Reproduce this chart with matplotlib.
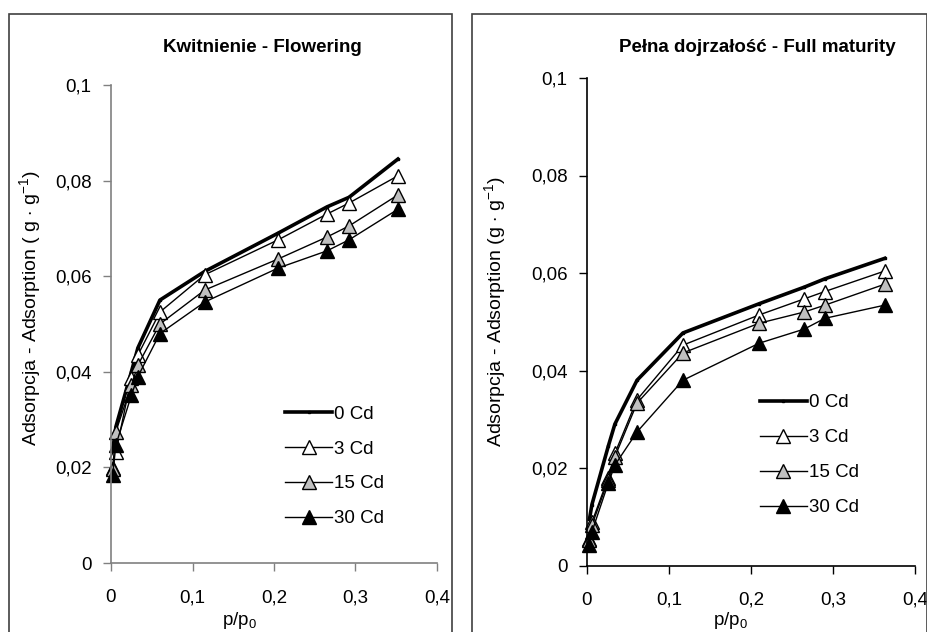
import matplotlib
matplotlib.use("Agg")
import matplotlib.pyplot as plt
from matplotlib.patches import Rectangle
from matplotlib.ticker import FuncFormatter

plt.rcParams['font.family'] = ['Liberation Sans', 'DejaVu Sans']
plt.rcParams['mathtext.fontset'] = 'custom'
plt.rcParams['mathtext.rm'] = 'Liberation Sans'
plt.rcParams['mathtext.it'] = 'Liberation Sans:italic'
plt.rcParams['mathtext.bf'] = 'Liberation Sans:bold'

series_names = ['0 Cd', '3 Cd', '15 Cd', '30 Cd']

# Kwitnienie - Flowering
x_flow = [0.002, 0.006, 0.025, 0.033, 0.06, 0.115, 0.205, 0.265, 0.292, 0.352]
flow_0 = [0.0235, 0.0285, 0.0400, 0.0450, 0.0550, 0.0610, 0.0690, 0.0745, 0.0765, 0.0845]
flow_3 = [0.0199, 0.0232, 0.0387, 0.0435, 0.0525, 0.0603, 0.0676, 0.0730, 0.0753, 0.0810]
flow_15 = [0.0197, 0.0275, 0.0372, 0.0414, 0.0500, 0.0571, 0.0636, 0.0682, 0.0705, 0.0770]
flow_30 = [0.0184, 0.0247, 0.0351, 0.0390, 0.0480, 0.0546, 0.0617, 0.0653, 0.0676, 0.0740]

# Pelna dojrzalosc - Full maturity
x_mat = [0.003, 0.006, 0.026, 0.034, 0.061, 0.117, 0.21, 0.265, 0.29, 0.363]
mat_0 = [0.0095, 0.0125, 0.0245, 0.0290, 0.0380, 0.0477, 0.0537, 0.0571, 0.0588, 0.0630]
mat_3 = [0.0055, 0.0089, 0.0180, 0.0230, 0.0340, 0.0452, 0.0514, 0.0547, 0.0562, 0.0604]
mat_15 = [0.0052, 0.0083, 0.0175, 0.0223, 0.0333, 0.0436, 0.0497, 0.0520, 0.0534, 0.0577]
mat_30 = [0.0042, 0.0069, 0.0169, 0.0206, 0.0274, 0.0380, 0.0456, 0.0485, 0.0507, 0.0534]

x_ticks = [0, 0.1, 0.2, 0.3, 0.4]
y_ticks = [0, 0.02, 0.04, 0.06, 0.08, 0.1]

FS = 13.5


def comma(v, pos):
    s = ('%.2f' % v).rstrip('0').rstrip('.')
    return s.replace('.', ',')


def draw_panel(ax, x, ys, spine_col, ylabel, ylab_xy, xlab_xy, leg_xy):
    styles = [dict(color='black', lw=2.6, marker='s', ms=1.5),
              dict(color='black', lw=1, marker='^', ms=10, mfc='white', mec='black', mew=1),
              dict(color='black', lw=1, marker='^', ms=10, mfc='#c0c0c0', mec='black', mew=1),
              dict(color='black', lw=1, marker='^', ms=10, mfc='black', mec='black', mew=1)]
    for y, name, st in zip(ys, series_names, styles):
        ax.plot(x, y, label=name, clip_on=False, **st)
    ax.set_xlim(0, 0.4)
    ax.set_ylim(0, 0.1)
    ax.set_xticks(x_ticks)
    ax.set_yticks(y_ticks)
    ax.xaxis.set_major_formatter(FuncFormatter(comma))
    ax.yaxis.set_major_formatter(FuncFormatter(comma))
    for s in ['top', 'right']:
        ax.spines[s].set_visible(False)
    for s in ['left', 'bottom']:
        ax.spines[s].set_color(spine_col)
        ax.spines[s].set_linewidth(1.2)
    ax.tick_params(axis='y', direction='out', length=6, width=1, color=spine_col,
                   labelsize=FS, pad=8)
    ax.tick_params(axis='x', direction='out', length=6, width=1, color=spine_col,
                   labelsize=FS, pad=13)
    ax.set_ylabel(ylabel, fontsize=14)
    ax.yaxis.set_label_coords(*ylab_xy)
    ax.set_xlabel(r'p/p$_\mathregular{0}$', fontsize=FS)
    ax.xaxis.set_label_coords(*xlab_xy)
    ax.legend(loc='center left', bbox_to_anchor=leg_xy, frameon=False, fontsize=FS,
              handlelength=2.5, handletextpad=0.1, labelspacing=0.95,
              borderpad=0, borderaxespad=0)


fig = plt.figure(figsize=(9.28, 6.32), dpi=100)

# panel frames
fig.patches.append(Rectangle((9 / 928, -0.02), 443 / 928, 1.02 - 14 / 632,
                             transform=fig.transFigure, fill=False,
                             edgecolor='#404040', lw=1.2))
fig.patches.append(Rectangle((472 / 928, -0.02), 455 / 928, 1.02 - 14 / 632,
                             transform=fig.transFigure, fill=False,
                             edgecolor='#404040', lw=1.2))

ax1 = fig.add_axes([111 / 928, 69 / 632, 326 / 928, 478 / 632])
ax2 = fig.add_axes([587 / 928, 66.5 / 632, 328 / 928, 487.5 / 632])

draw_panel(ax1, x_flow, [flow_0, flow_3, flow_15, flow_30], '#808080',
           r'Adsorpcja - Adsorption ( g $\cdot$ g$^{\mathregular{-1}}$)',
           (-0.209, 0.533), (0.393, -0.098), (0.534, 0.202))
draw_panel(ax2, x_mat, [mat_0, mat_3, mat_15, mat_30], 'black',
           r'Adsorpcja - Adsorption (g $\cdot$ g$^{\mathregular{-1}}$)',
           (-0.241, 0.52), (0.439, -0.091), (0.527, 0.226))

fig.text(262 / 928, 1 - 48 / 632, 'Kwitnienie - Flowering', ha='center', va='center',
         fontsize=FS, fontweight='bold')
fig.text(757 / 928, 1 - 48 / 632, 'Pełna dojrzałość - Full maturity', ha='center',
         va='center', fontsize=FS, fontweight='bold')

fig.savefig('out.png', dpi=100)
